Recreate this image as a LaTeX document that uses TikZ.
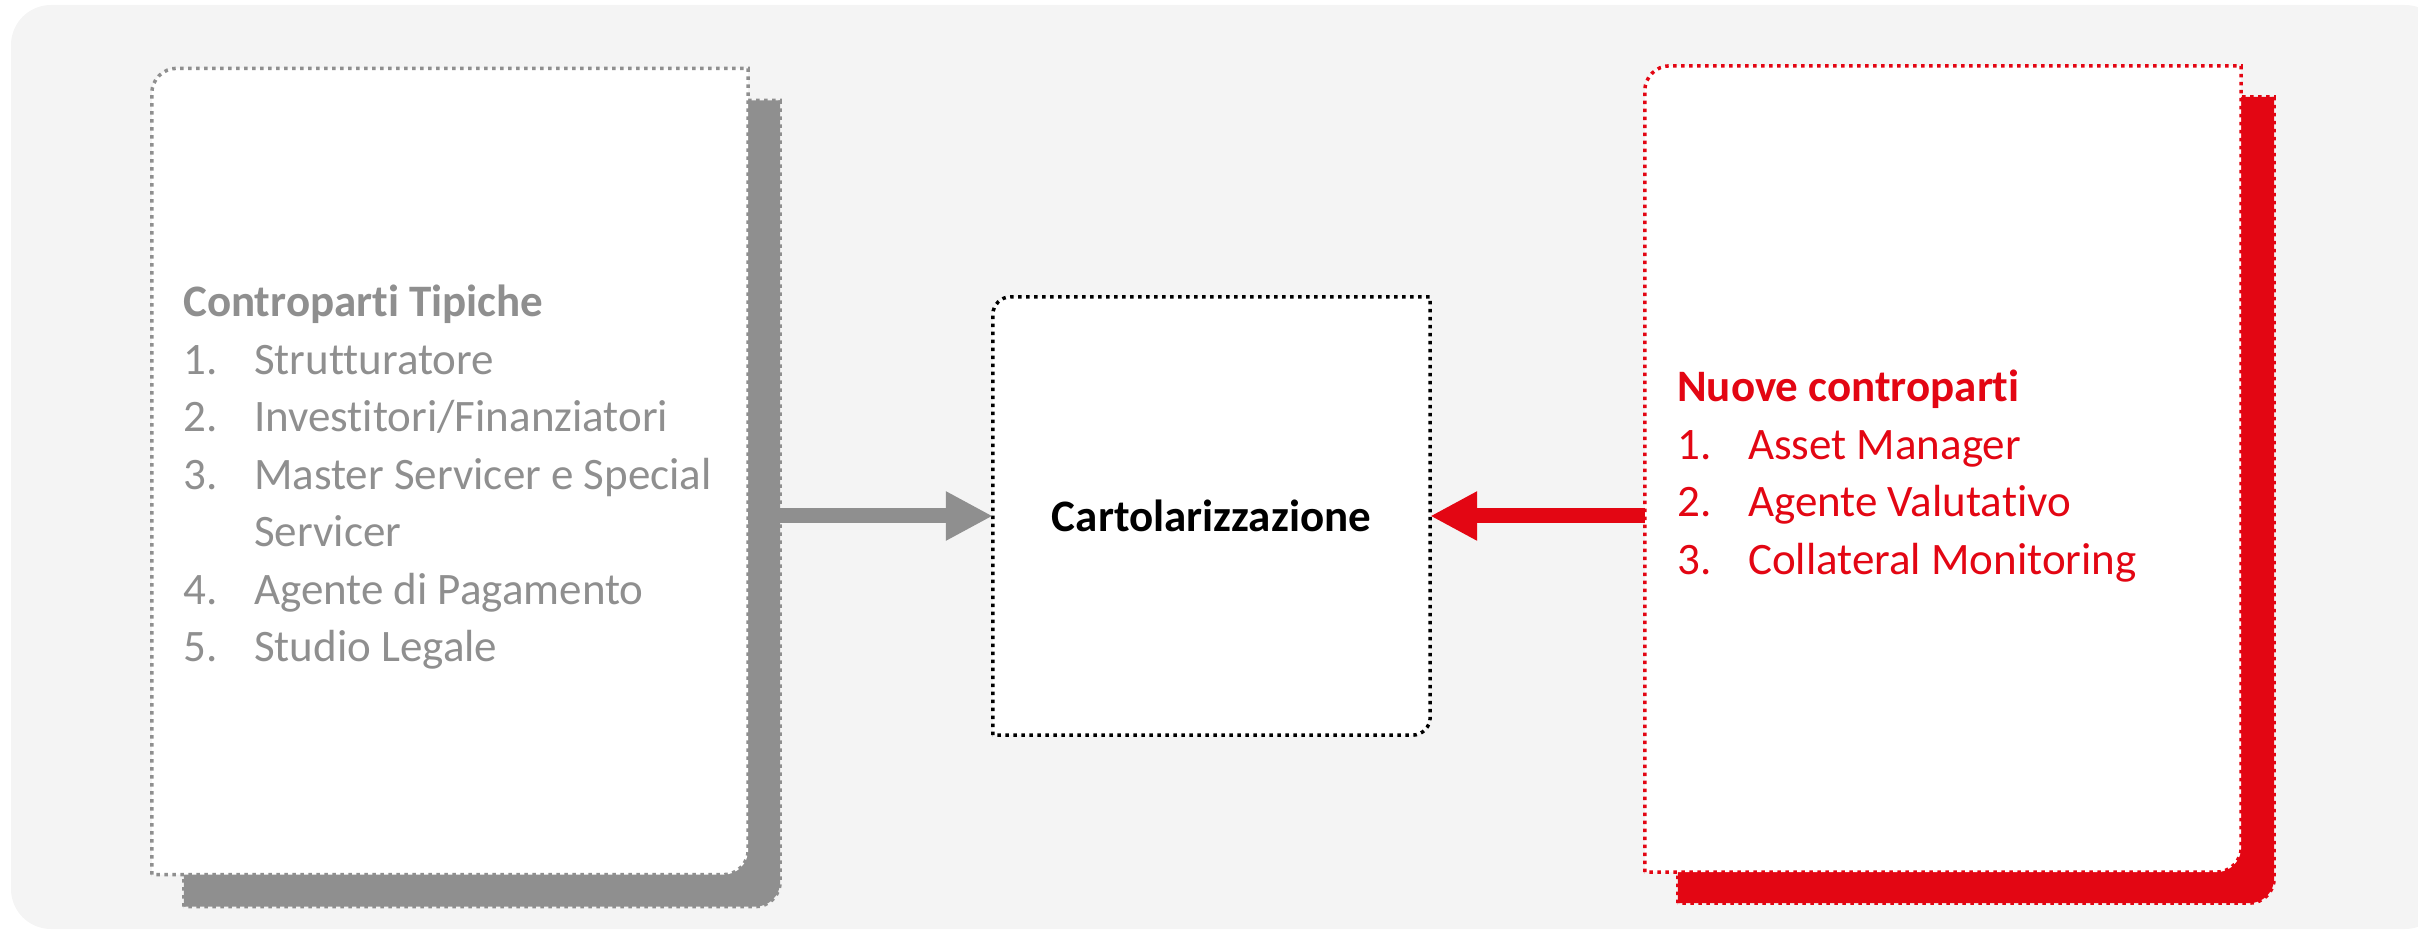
\documentclass[tikz,border=0pt]{standalone}
\usepackage{fontspec}
\setmainfont{Carlito}[Ligatures=NoCommon]
\usetikzlibrary{arrows.meta,backgrounds}
\definecolor{sfondo}{HTML}{F4F4F4}
\definecolor{grigio}{HTML}{8F8F8F}
\definecolor{rosso}{HTML}{E30613}
\tikzset{
  puntini/.style={line width=3.5pt, dash pattern=on 3.5pt off 4.5pt},
  riquadro/.style={inner sep=0pt, minimum width=596pt, minimum height=806pt},
  ombragrigia/.style={puntini, draw=grigio, fill=grigio},
  bordogrigio/.style={puntini, draw=grigio, fill=white},
  ombrarossa/.style={puntini, draw=rosso, fill=rosso},
  bordorosso/.style={puntini, draw=rosso, fill=white},
  bordonero/.style={puntini, draw=black, fill=white},
  freccia/.style={line width=15pt, -{Triangle[length=47pt,width=46pt]}},
}
\begin{document}
\begin{tikzpicture}[x=1pt, y=1pt, font=\fontsize{45}{57.5}\selectfont]
\useasboundingbox (0,0) rectangle (2418,930);
% riquadri
\node[riquadro] (tipiche_ombra) at (482,426.5) {};
\node[riquadro] (tipiche) at (450,458.5) {};
\node[riquadro] (nuove_ombra) at (1976,430) {};
\node[riquadro] (nuove) at (1943,461) {};
\node[inner sep=0pt, minimum width=437pt, minimum height=438pt, font=\fontsize{45}{57.5}\selectfont\bfseries] (cartol) at (1211.5,414) {Cartolarizzazione};
\begin{scope}[on background layer]
\fill[sfondo, rounded corners=40pt] (11,1) rectangle (2445,925);
\foreach \n/\r/\s in {tipiche_ombra/25/ombragrigia, tipiche/25/bordogrigio, nuove_ombra/25/ombrarossa, nuove/25/bordorosso, cartol/18/bordonero}
  \draw[\s] (\n.south west) -- ([yshift=-\r pt]\n.north west) arc[start angle=180, end angle=90, radius=\r pt]
    -- (\n.north east) -- ([yshift=\r pt]\n.south east) arc[start angle=0, end angle=-90, radius=\r pt] -- cycle;
\end{scope}
% elenchi
\node[anchor=base west, inner sep=0pt, text=grigio] (lista_tipiche) at (183,613) {%
\begin{tabular}[t]{@{}p{71pt}@{}l@{}}
\multicolumn{2}{@{}l@{}}{\bfseries Controparti Tipiche}\\
1. & Strutturatore\\
2. & Investitori/Finanziatori\\
3. & Master Servicer e Special\\
   & Servicer\\
4. & Agente di Pagamento\\
5. & Studio Legale
\end{tabular}};
\node[anchor=base west, inner sep=0pt, text=rosso] (lista_nuove) at (1677,528) {%
\begin{tabular}[t]{@{}p{71pt}@{}l@{}}
\multicolumn{2}{@{}l@{}}{\bfseries Nuove controparti}\\
1. & Asset Manager\\
2. & Agente Valutativo\\
3. & Collateral Monitoring
\end{tabular}};
% frecce
\draw[freccia, grigio] (tipiche.east |- cartol.west) -- (cartol.west);
\draw[freccia, rosso] (nuove.west |- cartol.east) -- (cartol.east);
\end{tikzpicture}
\end{document}
